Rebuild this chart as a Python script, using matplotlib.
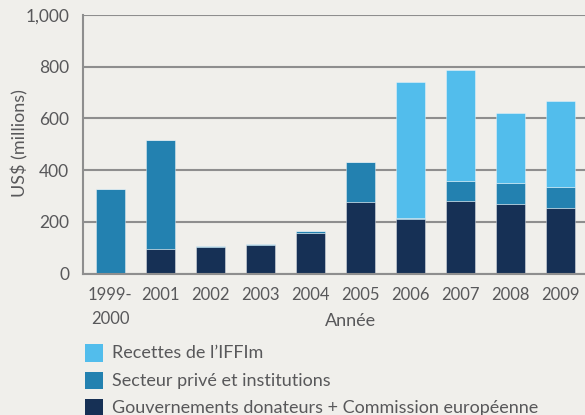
import matplotlib
matplotlib.use("Agg")
import matplotlib.pyplot as plt
from matplotlib.patches import Rectangle
import numpy as np

years = ["1999-\n2000", "2001", "2002", "2003", "2004", "2005", "2006", "2007", "2008", "2009"]
gouvernements = [2, 93, 103, 111, 156, 275, 212, 281, 268, 253]
secteur_prive = [326, 424, 4, 5, 8, 155, 3, 76, 82, 82]
recettes_iffim = [0, 0, 0, 0, 0, 0, 524, 430, 272, 332]
series_labels = ["Recettes de l\u2019IFFIm", "Secteur priv\u00e9 et institutions",
                 "Gouvernements donateurs + Commission europ\u00e9enne"]
y_ticks = [0, 200, 400, 600, 800, 1000]
y_tick_labels = ["0", "200", "400", "600", "800", "1,000"]

c_light = "#52bdec"
c_mid = "#2381b0"
c_dark = "#163055"
bg = "#f0efeb"
txt = "#58585a"
grid = "#8e8e8e"

plt.rcParams["font.family"] = ["Lato", "DejaVu Sans"]

fig = plt.figure(figsize=(5.85, 4.15), dpi=100, facecolor=bg)
W, H = 585, 415
ax = fig.add_axes([83 / W, 1 - 273.5 / H, (585 - 83) / W, (273.5 - 15) / H])
ax.set_facecolor(bg)

x = np.arange(len(years))
g = np.array(gouvernements)
p = np.array(secteur_prive)
r = np.array(recettes_iffim)
bw = 0.58
ec = (1, 1, 1, 0.45)
ax.bar(x, g, bw, color=c_dark, edgecolor=ec, linewidth=0.6, zorder=3)
ax.bar(x, p, bw, bottom=g, color=c_mid, edgecolor=ec, linewidth=0.6, zorder=3)
ax.bar(x, r, bw, bottom=g + p, color=c_light, edgecolor=ec, linewidth=0.6, zorder=3)

ax.set_xlim(-0.54, 9.5)
ax.set_ylim(0, 1000)
ax.set_yticks(y_ticks)
ax.set_yticklabels(y_tick_labels, fontsize=12.5, color=txt)
ax.set_xticks(x)
ax.set_xticklabels(years, fontsize=12, color=txt, linespacing=1.6)
ax.tick_params(axis="both", length=0)
ax.tick_params(axis="y", pad=10)
ax.tick_params(axis="x", pad=10)
ax.yaxis.grid(True, color=grid, linewidth=1.5, zorder=0)
ax.set_axisbelow(True)
for s in ["top", "right"]:
    ax.spines[s].set_visible(False)
for s in ["left", "bottom"]:
    ax.spines[s].set_color(grid)
    ax.spines[s].set_linewidth(1.5)
    ax.spines[s].set_zorder(4)

ax.set_ylabel("US$ (millions)", fontsize=13, color=txt, va="center")
ax.yaxis.set_label_coords(-(83 - 20) / 502, (273.5 - 143) / 258.5)
ax.set_xlabel("Ann\u00e9e", fontsize=13, color=txt, va="center")
ax.xaxis.set_label_coords((350.7 - 83) / 502, -(320.7 - 273.5) / 258.5)

# legend
colors = [c_light, c_mid, c_dark]
tops = [344, 371.5, 398.5]
for lab, col, t in zip(series_labels, colors, tops):
    fig.patches.append(Rectangle((85 / W, 1 - (t + 17.5) / H), 17.5 / W, 17.5 / H,
                                 transform=fig.transFigure, facecolor=col, edgecolor="none"))
    fig.text(111.5 / W, 1 - (t + 9) / H, lab, fontsize=13, color=txt, va="center", ha="left")

fig.savefig("out.png", dpi=100, facecolor=bg)
